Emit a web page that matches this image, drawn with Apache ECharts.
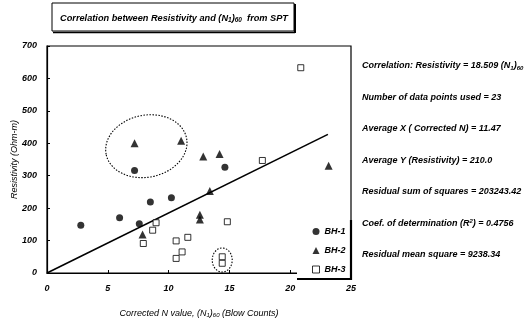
<!DOCTYPE html>
<html><head><meta charset="utf-8">
<script src="https://cdn.jsdelivr.net/npm/echarts@6/dist/echarts.min.js"></script>
<style>html,body{margin:0;padding:0;background:#fff}#c{width:530px;height:326px}</style>
</head><body><div id="c"></div>
<script>
// ---- data ----
const xTicks = [0, 5, 10, 15, 20, 25];
const yTicks = [0, 100, 200, 300, 400, 500, 600, 700];
const bh1 = [[2.78,147],[5.97,170],[7.2,316],[7.59,152],[8.5,219],[10.23,232],[14.63,326]];
const bh2 = [[7.2,400],[11.03,408],[7.86,119],[12.85,359],[14.19,367],[13.39,253],[12.57,180],[12.57,165],[23.16,331]];
const bh3 = [[8.97,155],[8.69,132],[7.92,91],[10.62,99],[11.58,110],[11.11,65],[10.62,45],[20.87,633],[17.71,347],[14.83,158],[14.41,50],[14.41,30]];
const slope = 18.509;
const fitX = [0, 23.1];
const seriesNames = ['BH-1', 'BH-2', 'BH-3'];
const statLines = [
  '{t|Correlation: Resistivity = 18.509 (N}{s|1}{t|)}{s|60}',
  '{t|Number of data points used = 23}',
  '{t|Average X ( Corrected N) = 11.47}',
  '{t|Average Y (Resistivity) = 210.0}',
  '{t|Residual sum of squares = 203243.42}',
  '{t|Coef. of determination (R}{p|2}{t|) = 0.4756}',
  '{t|Residual mean square = 9238.34}'
];
// outlier annotations (data units): center x, center y, radius in px x/y, rotation
const outlierRings = [
  {x: 8.17, y: 391, rx: 41, ry: 31, rot: 0.2},
  {x: 14.41, y: 40, rx: 10, ry: 12, rot: 0}
];

const FONT = '"Liberation Sans", Arial, sans-serif';
const txt = (size) => ({fontFamily: FONT, fontStyle: 'italic', fontWeight: 'bold', fontSize: size, color: '#000'});
const richSub = {
  t: txt(9),
  s: Object.assign(txt(6), {verticalAlign: 'bottom', padding: [4,0,0,0]}),
  p: Object.assign(txt(6), {verticalAlign: 'top', padding: [0,0,4,0]})
};
const richTitle = {
  t: txt(9.2),
  s: Object.assign(txt(6.5), {verticalAlign: 'bottom', padding: [4,0,0,0]})
};

const chart = echarts.init(document.getElementById('c'), null, {renderer: 'canvas'});
const mk = (name, data, symbol, size, fill) => ({
  name, type: 'scatter', data, symbol, symbolSize: size,
  itemStyle: {color: fill, borderColor: '#000', borderWidth: fill === '#fff' ? 1 : 0},
  z: 3
});

const option = {
  animation: false,
  backgroundColor: '#fff',
  grid: {left: 47, right: 179, top: 46, bottom: 53, show: true, borderColor: '#000', borderWidth: 1.2,
    containLabel: false, outerBoundsMode: 'none'},
  xAxis: {
    type: 'value', min: 0, max: 25, interval: 5,
    axisLine: {show: true, lineStyle: {color: '#000', width: 1.2}},
    axisTick: {show: true, inside: true, length: 3, lineStyle: {color: '#000'}},
    splitLine: {show: false},
    axisLabel: Object.assign(txt(9), {margin: 11, formatter: v => xTicks.includes(v) ? String(v) : ''}),
    name: '{t|Corrected N value, (N}{s|1}{t|)}{s|60}{t| (Blow Counts)}',
    nameLocation: 'middle', nameGap: 35, nameMoveOverlap: false,
    nameTextStyle: {rich: {t: Object.assign(txt(9), {fontWeight: 'normal'}), s: Object.assign(txt(6), {fontWeight: 'normal', verticalAlign: 'bottom', padding: [4,0,0,0]})}}
  },
  yAxis: {
    type: 'value', min: 0, max: 700, interval: 100,
    axisLine: {show: true, lineStyle: {color: '#000', width: 1.2}},
    axisTick: {show: true, inside: true, length: 3, lineStyle: {color: '#000'}},
    splitLine: {show: false},
    axisLabel: Object.assign(txt(9), {margin: 10, formatter: v => yTicks.includes(v) ? String(v) : ''}),
    name: 'Resistivity (Ohm-m)', nameLocation: 'middle', nameGap: 28, nameRotate: 90, nameMoveOverlap: false,
    nameTextStyle: Object.assign(txt(9), {fontWeight: 'normal'})
  },
  legend: {
    data: [
      {name: seriesNames[0], icon: 'circle', itemStyle: {color: '#000', borderWidth: 0}},
      {name: seriesNames[1], icon: 'triangle', itemStyle: {color: '#000', borderWidth: 0}},
      {name: seriesNames[2], icon: 'rect', itemStyle: {color: '#fff', borderColor: '#000', borderWidth: 1}}
    ],
    orient: 'vertical', left: 307, top: 222, itemWidth: 7, itemHeight: 7, itemGap: 10,
    textStyle: txt(9), z: 20, selectedMode: false
  },
  series: [
    mk(seriesNames[0], bh1, 'circle', 7, '#000'),
    mk(seriesNames[1], bh2, 'triangle', 8, '#000'),
    mk(seriesNames[2], bh3, 'rect', 6, '#fff'),
    {type: 'line', data: fitX.map(x => [x, slope * x]), symbol: 'none', lineStyle: {color: '#000', width: 1.6}, z: 2, silent: true}
  ]
};
chart.setOption(option);

// annotations positioned from data coordinates
const rings = outlierRings.map(r => {
  const p = chart.convertToPixel({gridIndex: 0}, [r.x, r.y]);
  return {type: 'ellipse', shape: {cx: 0, cy: 0, rx: r.rx, ry: r.ry}, x: p[0], y: p[1], rotation: r.rot,
    style: {fill: 'none', stroke: '#000', lineWidth: 1.1, lineDash: [1.5, 1.5]}, z: 4, silent: true};
});
const statsTexts = statLines.map((s, i) => ({
  type: 'text', x: 362, y: 66 + 31.5 * i,
  style: {text: s, rich: richSub, verticalAlign: 'middle', align: 'left'}, silent: true
}));
chart.setOption({
  graphic: [
    // title box with shadow edge
    {type: 'rect', shape: {x: 52, y: 3, width: 242, height: 28}, style: {fill: '#fff', stroke: '#000', lineWidth: 1}, z: 1},
    {type: 'line', shape: {x1: 295, y1: 4, x2: 295, y2: 33}, style: {stroke: '#000', lineWidth: 2}, z: 1},
    {type: 'line', shape: {x1: 53, y1: 32.5, x2: 295, y2: 32.5}, style: {stroke: '#000', lineWidth: 1.5}, z: 1},
    {type: 'text', x: 174, y: 18, style: {text: '{t|Correlation between Resistivity and (N}{s|1}{t|)}{s|60}{t|  from SPT}', rich: richTitle, align: 'center', verticalAlign: 'middle'}, z: 2},
    // legend box
    {type: 'rect', shape: {x: 297, y: 219, width: 53, height: 59}, style: {fill: '#fff', stroke: null}, z: 10},
    {type: 'line', shape: {x1: 351, y1: 220, x2: 351, y2: 280}, style: {stroke: '#000', lineWidth: 2.2}, z: 11},
    {type: 'line', shape: {x1: 297, y1: 279, x2: 352, y2: 279}, style: {stroke: '#000', lineWidth: 2}, z: 11},
    ...rings,
    ...statsTexts
  ]
});
</script>
</body></html>
